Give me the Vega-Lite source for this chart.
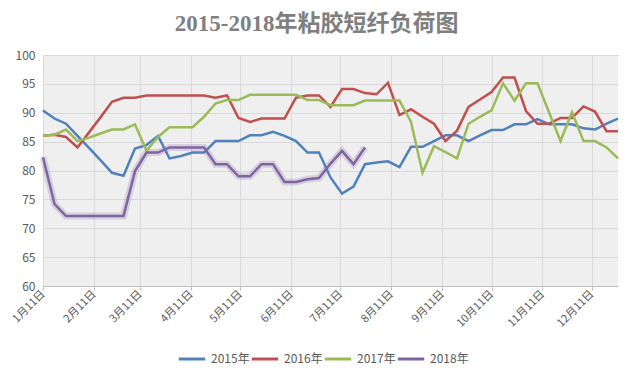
{
  "$schema": "https://vega.github.io/schema/vega-lite/v6.json",
  "width": 575,
  "height": 231,
  "autosize": {"type": "none"},
  "padding": {"left": 43, "top": 55, "right": 16, "bottom": 96},
  "background": "white",
  "title": {
    "text": "2015-2018年粘胶短纤负荷图",
    "font": "Liberation Serif, Noto Sans CJK SC",
    "fontSize": 23,
    "fontWeight": "bold",
    "color": "#7f7f7f",
    "anchor": "middle",
    "frame": "bounds",
    "offset": 13
  },
  "data": {
    "values": [
      {"d": "2015/01/11", "2015年": 90.4, "2016年": 86.0, "2017年": 86.0, "2018年": 82.3},
      {"d": "2015/01/18", "2015年": 89.0, "2016年": 86.2, "2017年": 86.2, "2018年": 74.2},
      {"d": "2015/01/25", "2015年": 88.1, "2016年": 85.8, "2017年": 87.1, "2018年": 72.1},
      {"d": "2015/02/01", "2015年": 86.0, "2016年": 84.0, "2017年": 85.1, "2018年": 72.1},
      {"d": "2015/02/08", "2015年": 83.9, "2016年": 86.6, "2017年": 85.7, "2018年": 72.1},
      {"d": "2015/02/15", "2015年": 81.8, "2016年": 89.2, "2017年": 86.4, "2018年": 72.1},
      {"d": "2015/02/22", "2015年": 79.6, "2016年": 91.9, "2017年": 87.1, "2018年": 72.1},
      {"d": "2015/03/01", "2015年": 79.1, "2016年": 92.6, "2017年": 87.1, "2018年": 72.1},
      {"d": "2015/03/08", "2015年": 83.8, "2016年": 92.6, "2017年": 88.0, "2018年": 79.9},
      {"d": "2015/03/15", "2015年": 84.4, "2016年": 93.0, "2017年": 83.4, "2018年": 83.1},
      {"d": "2015/03/22", "2015年": 86.0, "2016年": 93.0, "2017年": 85.8, "2018年": 83.1},
      {"d": "2015/03/29", "2015年": 82.1, "2016年": 93.0, "2017年": 87.5, "2018年": 84.0},
      {"d": "2015/04/05", "2015年": 82.5, "2016年": 93.0, "2017年": 87.5, "2018年": 84.0},
      {"d": "2015/04/12", "2015年": 83.1, "2016年": 93.0, "2017年": 87.5, "2018年": 84.0},
      {"d": "2015/04/19", "2015年": 83.1, "2016年": 93.0, "2017年": 89.3, "2018年": 84.0},
      {"d": "2015/04/26", "2015年": 85.1, "2016年": 92.6, "2017年": 91.6, "2018年": 81.1},
      {"d": "2015/05/03", "2015年": 85.1, "2016年": 93.0, "2017年": 92.2, "2018年": 81.1},
      {"d": "2015/05/10", "2015年": 85.1, "2016年": 89.1, "2017年": 92.2, "2018年": 79.0},
      {"d": "2015/05/17", "2015年": 86.1, "2016年": 88.4, "2017年": 93.1, "2018年": 79.0},
      {"d": "2015/05/24", "2015年": 86.1, "2016年": 89.0, "2017年": 93.1, "2018年": 81.1},
      {"d": "2015/05/31", "2015年": 86.7, "2016年": 89.0, "2017年": 93.1, "2018年": 81.1},
      {"d": "2015/06/07", "2015年": 86.0, "2016年": 89.0, "2017年": 93.1, "2018年": 78.0},
      {"d": "2015/06/14", "2015年": 85.1, "2016年": 92.6, "2017年": 93.1, "2018年": 78.0},
      {"d": "2015/06/21", "2015年": 83.1, "2016年": 93.0, "2017年": 92.2, "2018年": 78.5},
      {"d": "2015/06/28", "2015年": 83.1, "2016年": 93.0, "2017年": 92.2, "2018年": 78.7},
      {"d": "2015/07/05", "2015年": 78.8, "2016年": 91.0, "2017年": 91.3, "2018年": 81.2},
      {"d": "2015/07/12", "2015年": 76.0, "2016年": 94.1, "2017年": 91.3, "2018年": 83.4},
      {"d": "2015/07/19", "2015年": 77.2, "2016年": 94.1, "2017年": 91.3, "2018年": 81.1},
      {"d": "2015/07/26", "2015年": 81.1, "2016年": 93.4, "2017年": 92.1, "2018年": 84.0},
      {"d": "2015/08/02", "2015年": 81.4, "2016年": 93.2, "2017年": 92.1},
      {"d": "2015/08/09", "2015年": 81.6, "2016年": 95.2, "2017年": 92.1},
      {"d": "2015/08/16", "2015年": 80.6, "2016年": 89.6, "2017年": 92.1},
      {"d": "2015/08/23", "2015年": 84.1, "2016年": 90.6, "2017年": 88.4},
      {"d": "2015/08/30", "2015年": 84.1, "2016年": 89.3, "2017年": 79.6},
      {"d": "2015/09/06", "2015年": 85.1, "2016年": 88.1, "2017年": 84.2},
      {"d": "2015/09/13", "2015年": 86.1, "2016年": 85.1, "2017年": 83.2},
      {"d": "2015/09/20", "2015年": 86.1, "2016年": 86.9, "2017年": 82.1},
      {"d": "2015/09/27", "2015年": 85.1, "2016年": 91.0, "2017年": 88.1},
      {"d": "2015/10/04", "2015年": 86.1, "2016年": 92.3, "2017年": 89.3},
      {"d": "2015/10/11", "2015年": 87.0, "2016年": 93.6, "2017年": 90.4},
      {"d": "2015/10/18", "2015年": 87.0, "2016年": 96.1, "2017年": 95.1},
      {"d": "2015/10/25", "2015年": 88.0, "2016年": 96.1, "2017年": 92.1},
      {"d": "2015/11/01", "2015年": 88.0, "2016年": 90.3, "2017年": 95.1},
      {"d": "2015/11/08", "2015年": 88.9, "2016年": 88.1, "2017年": 95.1},
      {"d": "2015/11/15", "2015年": 88.0, "2016年": 88.1, "2017年": 90.1},
      {"d": "2015/11/22", "2015年": 88.0, "2016年": 89.1, "2017年": 85.1},
      {"d": "2015/11/29", "2015年": 88.0, "2016年": 89.1, "2017年": 90.1},
      {"d": "2015/12/06", "2015年": 87.3, "2016年": 91.1, "2017年": 85.1},
      {"d": "2015/12/13", "2015年": 87.1, "2016年": 90.2, "2017年": 85.1},
      {"d": "2015/12/20", "2015年": 88.1, "2016年": 86.8, "2017年": 84.0},
      {"d": "2015/12/27", "2015年": 89.0, "2016年": 86.8, "2017年": 82.1}
    ]
  },
  "transform": [
    {"fold": ["2015年", "2016年", "2017年", "2018年"], "as": ["series", "value"]},
    {"filter": "isValid(datum.value)"}
  ],
  "encoding": {
    "x": {
      "field": "d",
      "type": "temporal",
      "scale": {"domain": [{"year": 2015, "month": 1, "date": 11}, {"year": 2015, "month": 12, "date": 27}]},
      "axis": {
        "title": null,
        "values": [
          {"year": 2015, "month": 1, "date": 11},
          {"year": 2015, "month": 2, "date": 11},
          {"year": 2015, "month": 3, "date": 11},
          {"year": 2015, "month": 4, "date": 11},
          {"year": 2015, "month": 5, "date": 11},
          {"year": 2015, "month": 6, "date": 11},
          {"year": 2015, "month": 7, "date": 11},
          {"year": 2015, "month": 8, "date": 11},
          {"year": 2015, "month": 9, "date": 11},
          {"year": 2015, "month": 10, "date": 11},
          {"year": 2015, "month": 11, "date": 11},
          {"year": 2015, "month": 12, "date": 11}
        ],
        "labelExpr": "(month(datum.value) + 1) + '月11日'",
        "labelAngle": -45,
        "labelAlign": "right",
        "labelBaseline": "middle",
        "labelFont": "Noto Sans CJK SC",
        "labelFontSize": 11,
        "labelColor": "#595959",
        "labelPadding": 2,
        "labelOverlap": false,
        "labelFlush": false,
        "grid": true,
        "gridColor": "#d9d9d9",
        "domainColor": "#bfbfbf",
        "tickColor": "#bfbfbf",
        "tickSize": 4
      }
    },
    "y": {
      "field": "value",
      "type": "quantitative",
      "scale": {"domain": [60, 100], "nice": false, "zero": false},
      "axis": {
        "title": null,
        "values": [60, 65, 70, 75, 80, 85, 90, 95, 100],
        "domain": false,
        "ticks": false,
        "tickSize": 0,
        "labelPadding": 8,
        "labelFont": "Noto Sans CJK SC",
        "labelFontSize": 12,
        "labelColor": "#595959",
        "gridColor": "#d9d9d9"
      }
    }
  },
  "layer": [
    {
      "transform": [{"filter": "datum.series === '2018年'"}],
      "mark": {"type": "line", "stroke": "#8064a2", "strokeWidth": 7, "opacity": 0.22},
      "encoding": {}
    },
    {
      "mark": {"type": "line", "strokeWidth": 2.5},
      "encoding": {
        "color": {
          "field": "series",
          "type": "nominal",
          "scale": {"domain": ["2015年", "2016年", "2017年", "2018年"], "range": ["#4f81bd", "#c0504d", "#9bbb59", "#8064a2"]},
          "legend": {
            "title": null,
            "orient": "none",
            "legendX": 134,
            "legendY": 289,
            "direction": "horizontal",
            "symbolType": "stroke",
            "symbolStrokeWidth": 3,
            "symbolSize": 700,
            "labelOffset": 4,
            "labelFont": "Noto Sans CJK SC",
            "labelFontSize": 12,
            "labelColor": "#595959",
            "columnPadding": -7
          }
        }
      }
    }
  ],
  "config": {
    "view": {"stroke": null, "fill": "#efefef"},
    "font": "Noto Sans CJK SC"
  }
}
